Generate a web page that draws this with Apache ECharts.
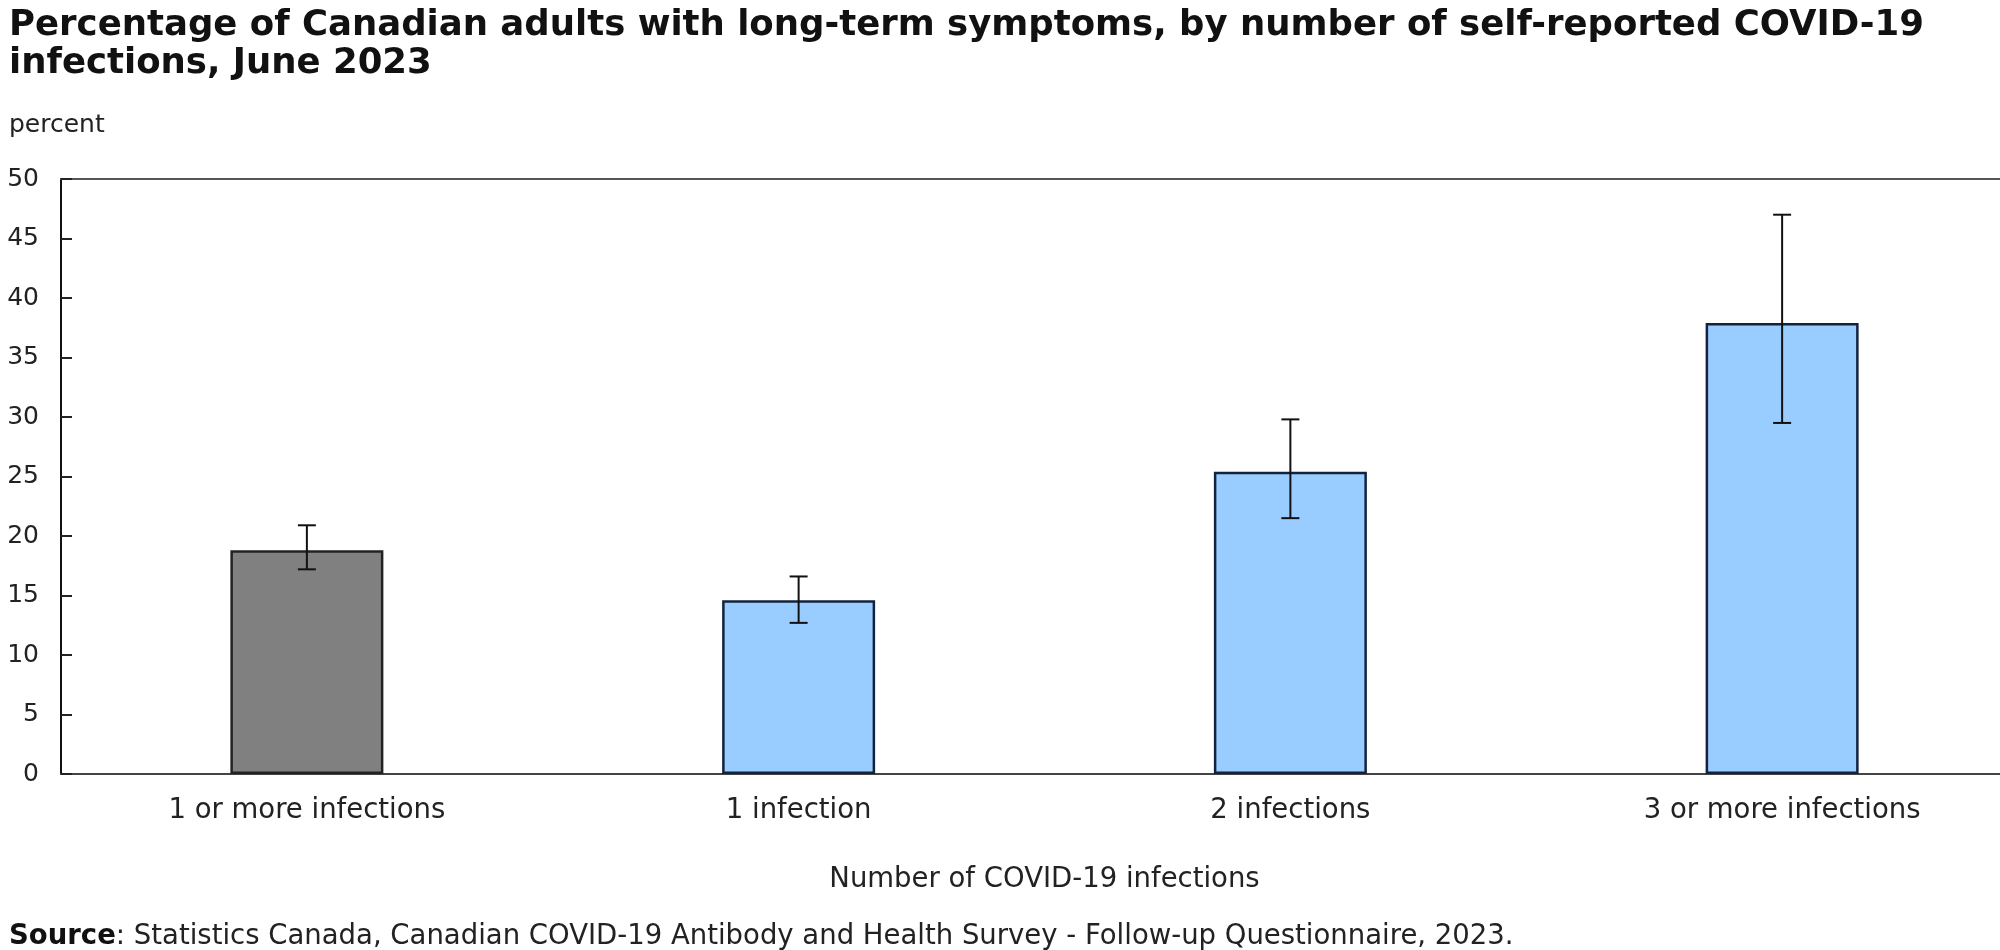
<!DOCTYPE html>
<html>
<head>
<meta charset="utf-8">
<script src="https://cdn.jsdelivr.net/npm/echarts@6/dist/echarts.min.js"></script>
<style>
html,body{margin:0;padding:0;background:#fff;}
#chart{width:2000px;height:950px;}
</style>
</head>
<body>
<div id="chart"></div>
<script>
const categories = ['1 or more infections', '1 infection', '2 infections', '3 or more infections'];
const values = [18.8, 14.6, 25.4, 37.9];
const lowValues = [17.2, 12.7, 21.5, 29.5];
const highValues = [20.9, 16.6, 29.8, 47.0];
const barColors = ['#808080', '#99CCFF', '#99CCFF', '#99CCFF'];
const barBorders = ['#222222', '#13233f', '#13233f', '#13233f'];
const yTicks = {min: 0, max: 50, interval: 5};

const titleText = 'Percentage of Canadian adults with long-term symptoms, by number of self-reported COVID-19\ninfections, June 2023';
const FONT = '"DejaVu Sans", Verdana, sans-serif';

const chart = echarts.init(document.getElementById('chart'));
chart.setOption({
  backgroundColor: '#ffffff',
  animation: false,
  title: [
    {
      text: titleText,
      left: 4, top: 2,
      textStyle: {fontFamily: FONT, fontWeight: 'bold', fontSize: 35.5, lineHeight: 38, color: '#111'}
    },
    {
      text: 'percent',
      left: 4, top: 108,
      textStyle: {fontFamily: FONT, fontWeight: 'normal', fontSize: 25, color: '#222'}
    },
    {
      text: '{b|Source}{n|: Statistics Canada, Canadian COVID-19 Antibody and Health Survey - Follow-up Questionnaire, 2023.}',
      left: 4, top: 918,
      textStyle: {
        rich: {
          b: {fontFamily: FONT, fontWeight: 'bold', fontSize: 27.5, color: '#111'},
          n: {fontFamily: FONT, fontWeight: 'normal', fontSize: 27.5, color: '#222'}
        }
      }
    }
  ],
  grid: {left: 61, width: 1967, top: 179, bottom: 176, containLabel: false, outerBoundsMode: 'none'},
  xAxis: [
    {
      type: 'category',
      data: categories,
      axisLine: {show: true, lineStyle: {color: '#444', width: 2}},
      axisTick: {show: false},
      axisLabel: {fontFamily: FONT, fontSize: 27.5, color: '#222', margin: 23},
      name: 'Number of COVID-19 infections',
      nameLocation: 'middle',
      nameGap: 92,
      nameTextStyle: {fontFamily: FONT, fontSize: 27.5, color: '#222'}
    },
    {
      type: 'category',
      position: 'top',
      data: categories,
      axisLine: {show: true, lineStyle: {color: '#555', width: 2}},
      axisTick: {show: false},
      axisLabel: {show: false}
    }
  ],
  yAxis: {
    type: 'value',
    min: yTicks.min, max: yTicks.max, interval: yTicks.interval,
    axisLine: {show: true, lineStyle: {color: '#111', width: 2}},
    axisTick: {show: true, inside: true, length: 11, lineStyle: {color: '#222', width: 2}},
    splitLine: {show: false},
    axisLabel: {fontFamily: FONT, fontSize: 25, color: '#222', margin: 22}
  },
  series: [
    {
      type: 'bar',
      barWidth: 153,
      data: values.map((v, i) => ({
        value: v,
        itemStyle: {color: barColors[i], borderColor: barBorders[i], borderWidth: 2.5}
      }))
    },
    {
      type: 'custom',
      data: categories.map((c, i) => [i, lowValues[i], highValues[i]]),
      renderItem: function (params, api) {
        const x = api.value(0);
        const lo = api.coord([x, api.value(1)]);
        const hi = api.coord([x, api.value(2)]);
        const half = 9;
        const style = {stroke: '#111', lineWidth: 2};
        return {
          type: 'group',
          children: [
            {type: 'line', shape: {x1: lo[0], y1: lo[1], x2: hi[0], y2: hi[1]}, style: style},
            {type: 'line', shape: {x1: lo[0] - half, y1: lo[1], x2: lo[0] + half, y2: lo[1]}, style: style},
            {type: 'line', shape: {x1: hi[0] - half, y1: hi[1], x2: hi[0] + half, y2: hi[1]}, style: style}
          ]
        };
      },
      z: 10
    }
  ]
});
</script>
</body>
</html>
